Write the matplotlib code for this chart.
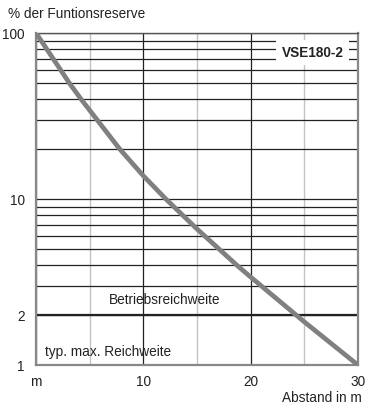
import matplotlib
matplotlib.use('Agg')
import numpy as np
from matplotlib import pyplot as plt
from matplotlib.ticker import FixedLocator, NullFormatter

plt.rcParams['font.family'] = ['Liberation Sans', 'DejaVu Sans']

# curve (distance in m, % of function reserve)
abstand = [0, 1.6, 3.1, 4.19, 5.69, 7.8, 10, 12.1, 15, 18.7, 20, 25, 30]
reserve = [100, 70, 50, 40, 30, 20, 13.8, 10, 6.6, 4, 3.39, 1.82, 1]

x_ticks = [0, 10, 20, 30]
x_labels = ['m', '10', '20', '30']
y_ticks = [1, 2, 10, 100]
y_labels = ['1', '2', '10', '100']
y_minor = [3, 4, 5, 6, 7, 8, 9, 20, 30, 40, 50, 60, 70, 80, 90]

fig = plt.figure(figsize=(3.69, 4.04), dpi=100)
ax = fig.add_axes([0.0976, 0.0965, 0.8724, 0.8218])

ax.set_yscale('log')
ax.set_xlim(0, 30)
ax.set_ylim(1, 100)

ax.xaxis.set_major_locator(FixedLocator(x_ticks))
ax.xaxis.set_minor_locator(FixedLocator([5, 15, 25]))
ax.set_xticklabels(x_labels)
ax.yaxis.set_major_locator(FixedLocator(y_ticks))
ax.yaxis.set_minor_locator(FixedLocator(y_minor))
ax.set_yticklabels(y_labels)
ax.yaxis.set_minor_formatter(NullFormatter())
ax.tick_params(which='both', length=0, labelsize=9.8, colors='#222222')
ax.tick_params(axis='y', pad=8)
ax.tick_params(axis='x', pad=7)

# grid
ax.grid(axis='y', which='both', color='#222222', lw=0.9)
ax.grid(axis='x', which='major', color='#222222', lw=0.9)
ax.grid(axis='x', which='minor', color='#c4c4c4', lw=1.0)
ax.axhline(2, color='#222222', lw=1.6, zorder=2)
ax.set_axisbelow(True)

for side in ['left', 'right', 'bottom']:
    ax.spines[side].set_color('#888888')
    ax.spines[side].set_linewidth(1.6)
ax.spines['top'].set_color('#555555')
ax.spines['top'].set_linewidth(1.0)

ax.plot(abstand, reserve, color='#808080', lw=3.4, solid_capstyle='butt',
        solid_joinstyle='round', zorder=3)

ax.text(12.0, 2.46, 'Betriebsreichweite', fontsize=9.8, ha='center', va='center', color='#222222')
ax.text(0.8, 1.2, 'typ. max. Reichweite', fontsize=9.8, ha='left', va='center', color='#222222')
ax.text(25.8, 76, 'VSE180-2', fontsize=9.8, fontweight='bold', ha='center', va='center',
        color='#222222', zorder=4,
        bbox=dict(facecolor='white', edgecolor='none', pad=4))

fig.text(8 / 369, 1 - 14 / 404, '% der Funtionsreserve', fontsize=9.8, ha='left', va='center', color='#222222')
fig.text(362 / 369, 1 - 398 / 404, 'Abstand in m', fontsize=9.8, ha='right', va='center', color='#222222')

fig.savefig('out.png', dpi=100)
